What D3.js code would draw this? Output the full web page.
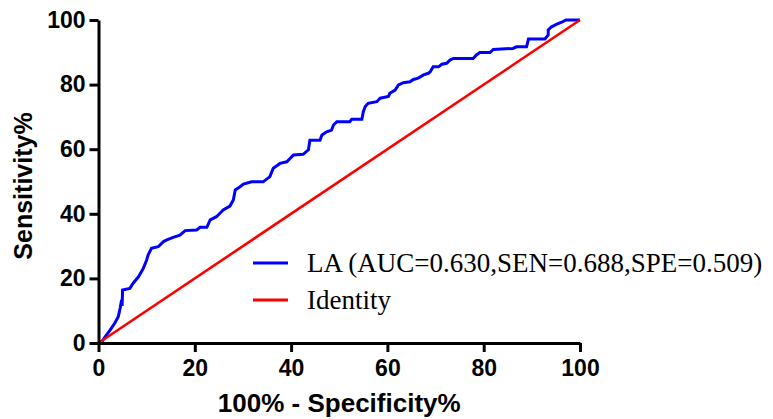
<!DOCTYPE html>
<html>
<head>
<meta charset="utf-8">
<script src="https://cdn.jsdelivr.net/npm/d3@7"></script>
<style>
  body { margin: 0; background: #ffffff; }
  svg { display: block; }
</style>
</head>
<body>
<div id="chart"></div>
<script>
// ROC curve points (100% - specificity, sensitivity)
const fpr = [0, 0.7, 1.4, 2.4, 3.4, 4.1, 4.5, 4.8, 4.9, 5.0, 6.5, 7.2, 8.3, 9.3, 10.0, 10.3, 11.0,
  12.4, 13.5, 14.2, 15.5, 16.9, 18.0, 20.4, 21.1, 22.5, 23.2, 24.5, 25.9, 27.3, 28.0, 28.4, 29.4,
  30.1, 31.8, 34.2, 35.6, 36.3, 37.7, 39.1, 40.5, 42.5, 43.6, 43.9, 46.0, 46.4, 47.4, 48.4, 48.8,
  49.5, 52.2, 52.6, 54.7, 55.0, 55.4, 56.0, 57.8, 58.5, 60.2, 60.5, 61.6, 62.3, 63.3, 64.7, 65.4,
  66.4, 67.5, 68.5, 68.9, 69.5, 70.6, 71.3, 72.3, 73.0, 73.7, 77.8, 78.5, 79.2, 81.3, 82.0, 86.1,
  86.8, 88.9, 89.3, 92.7, 93.4, 93.4, 94.1, 95.2, 96.2, 97.1, 100];
const tpr = [0, 0.4, 2.0, 4.0, 6.2, 8.1, 10.8, 13.3, 11.5, 16.4, 16.9, 18.5, 20.5, 23.1, 25.7, 27.2, 29.3,
  29.8, 31.4, 31.9, 32.7, 33.4, 34.8, 35.0, 35.8, 35.8, 38.1, 39.1, 41.2, 42.4, 44.3, 47.4, 48.4,
  49.2, 49.9, 49.9, 51.5, 54.1, 55.6, 56.1, 58.2, 58.4, 59.8, 62.8, 62.8, 64.4, 65.4, 65.9, 67.5,
  68.5, 68.5, 69.3, 69.3, 71.6, 73.2, 74.2, 74.7, 75.8, 76.3, 77.3, 78.3, 79.9, 80.6, 80.9, 81.6,
  82.0, 83.0, 83.5, 84.0, 85.5, 85.5, 86.3, 86.6, 87.6, 88.1, 88.1, 89.2, 89.9, 89.9, 90.9, 91.2,
  91.7, 91.7, 94.1, 94.1, 95.4, 96.9, 97.9, 98.7, 99.3, 100, 100];
const identity = [[0, 0], [100, 100]];
const ticks = [0, 20, 40, 60, 80, 100];
const legendLabels = ["LA (AUC=0.630,SEN=0.688,SPE=0.509)", "Identity"];
const colors = ["#0000ff", "#ff0000"];

const W = 773, H = 419;
const margin = { left: 98.5, right: 193, top: 20, bottom: 76 };

const svg = d3.select("#chart").append("svg")
  .attr("width", W)
  .attr("height", H)
  .style("background-color", "#ffffff");

const x = d3.scaleLinear().domain([0, 100]).range([margin.left, W - margin.right]);
const y = d3.scaleLinear().domain([0, 100]).range([H - margin.bottom, margin.top]);

const roc = fpr.map((v, i) => [v, tpr[i]]);
const line = d3.line().x(d => x(d[0])).y(d => y(d[1]));

// curves
svg.append("path")
  .datum(roc)
  .attr("d", line)
  .attr("fill", "none")
  .attr("stroke", colors[0])
  .attr("stroke-width", 3)
  .attr("stroke-linejoin", "miter");

svg.append("path")
  .datum(identity)
  .attr("d", line)
  .attr("fill", "none")
  .attr("stroke", colors[1])
  .attr("stroke-width", 2.6);

// axes
const xAxis = svg.append("g")
  .attr("transform", `translate(0,${y(0)})`)
  .call(d3.axisBottom(x).tickValues(ticks).tickSize(9).tickPadding(8).tickSizeOuter(0));
const yAxis = svg.append("g")
  .attr("transform", `translate(${x(0)},0)`)
  .call(d3.axisLeft(y).tickValues(ticks).tickSize(9).tickPadding(4).tickSizeOuter(0));

[xAxis, yAxis].forEach(g => {
  g.select(".domain").attr("stroke", "#000").attr("stroke-width", 3);
  g.selectAll(".tick line").attr("stroke", "#000").attr("stroke-width", 3);
  g.selectAll(".tick text")
    .attr("fill", "#000")
    .style("font-family", "'Liberation Sans', Arial, sans-serif")
    .style("font-weight", "bold")
    .style("font-size", "23px");
});

// axis titles
svg.append("text")
  .attr("text-anchor", "middle")
  .attr("x", (x(0) + x(100)) / 2)
  .attr("y", 412)
  .text("100% - Specificity%")
  .style("font-family", "'Liberation Sans', Arial, sans-serif")
  .style("font-weight", "bold")
  .style("font-size", "26px")
  .style("fill", "#000");

svg.append("text")
  .attr("text-anchor", "middle")
  .attr("transform", "rotate(-90)")
  .attr("x", -186)
  .attr("y", 32)
  .text("Sensitivity%")
  .style("font-family", "'Liberation Sans', Arial, sans-serif")
  .style("font-weight", "bold")
  .style("font-size", "25px")
  .style("fill", "#000");

// legend
const legend = svg.append("g");
legendLabels.forEach((lab, i) => {
  const ly = 263 + i * 37;
  legend.append("line")
    .attr("x1", 253).attr("x2", 288)
    .attr("y1", ly).attr("y2", ly)
    .attr("stroke", colors[i])
    .attr("stroke-width", 3);
  legend.append("text")
    .attr("x", 307)
    .attr("y", ly + 9)
    .text(lab)
    .style("font-family", "'Liberation Serif', 'Times New Roman', serif")
    .style("font-size", "27px")
    .style("fill", "#000");
});
</script>
</body>
</html>
